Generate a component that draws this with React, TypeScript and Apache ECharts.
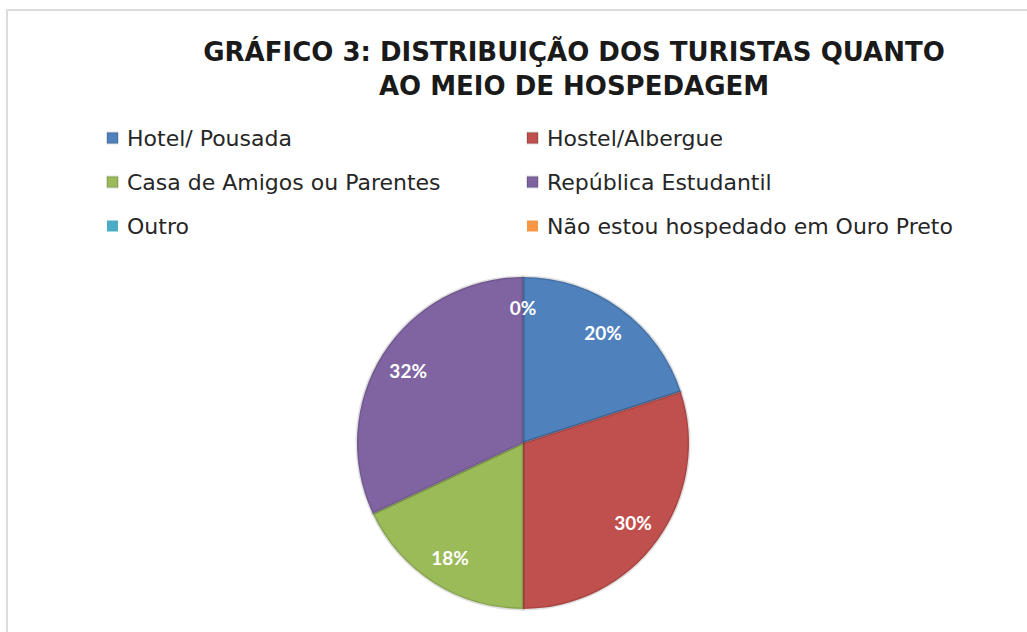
import React, { useEffect, useRef } from "react";
import * as echarts from "echarts";

const titleLines = [
  "GRÁFICO 3: DISTRIBUIÇÃO DOS TURISTAS QUANTO",
  "AO MEIO DE HOSPEDAGEM",
];
const categories = [
  "Hotel/ Pousada",
  "Hostel/Albergue",
  "Casa de Amigos ou Parentes",
  "República Estudantil",
  "Outro",
  "Não estou hospedado em Ouro Preto",
];
const values = [20, 30, 18, 32, 0, 0];
const colors = ["#4F81BD", "#C0504D", "#9BBB59", "#8064A2", "#4BACC6", "#F79646"];
const legendCol1 = [categories[0], categories[2], categories[4]];
const legendCol2 = [categories[1], categories[3], categories[5]];

export default function App() {
  const ref = useRef<HTMLDivElement>(null);
  useEffect(() => {
    if (!ref.current) return;
    const chart = echarts.init(ref.current, null, { renderer: "svg" });
    const data = categories.map((name, i) => ({
      name,
      value: values[i],
      itemStyle: {
        color: colors[i],
        borderColor: "rgba(0,0,0,0.12)",
        borderWidth: values[i] > 0 ? 3 : 0,
      },
    }));
    const legendCommon = {
      orient: "vertical" as const,
      icon: "rect",
      itemWidth: 11,
      itemHeight: 11,
      itemGap: 20,
      padding: 0,
      selectedMode: false,
      textStyle: {
        fontFamily: "DejaVu Sans",
        fontSize: 22,
        color: "#262626",
        lineHeight: 24,
        padding: [0, 0, 0, 4],
      },
    };
    chart.setOption({
      animation: false,
      backgroundColor: "#ffffff",
      graphic: [
        {
          type: "rect",
          shape: { x: 7, y: 10, width: 1100, height: 700 },
          style: { fill: "none", stroke: "#dcdcdc", lineWidth: 2 },
          silent: true,
        },
        ...titleLines.map((t, i) => ({
          type: "text",
          x: 574,
          y: 52 + i * 34,
          style: {
            text: t,
            font: 'bold 26px "DejaVu Sans"',
            fill: "#1a1a1a",
            align: "center",
            textAlign: "center",
            verticalAlign: "middle",
            textVerticalAlign: "middle",
          },
        })),
      ],
      legend: [
        { ...legendCommon, left: 106, top: 126, data: legendCol1 },
        { ...legendCommon, left: 526, top: 126, data: legendCol2 },
      ],
      series: [
        {
          type: "pie",
          center: [523, 443],
          radius: 166,
          startAngle: 90,
          clockwise: true,
          data,
          label: { show: false },
          labelLine: { show: false },
          emphasis: { disabled: true },
          silent: true,
        },
        {
          type: "pie",
          center: [523, 443],
          radius: [100, 166],
          startAngle: 90,
          clockwise: true,
          data: categories.map((name, i) => ({ name, value: values[i] })),
          itemStyle: { color: "rgba(0,0,0,0)", borderWidth: 0 },
          label: {
            show: true,
            position: "inside",
            formatter: (p: any) => Math.round(p.percent) + "%",
            color: "#ffffff",
            fontFamily: "Lato",
            fontWeight: "bold",
            fontSize: 19,
          },
          labelLine: { show: false },
          emphasis: { disabled: true },
          silent: true,
        },
      ],
    });
    return () => chart.dispose();
  }, []);
  return (
    <div
      ref={ref}
      style={{ position: "absolute", left: 0, top: 0, width: 1027, height: 632 }}
    />
  );
}
